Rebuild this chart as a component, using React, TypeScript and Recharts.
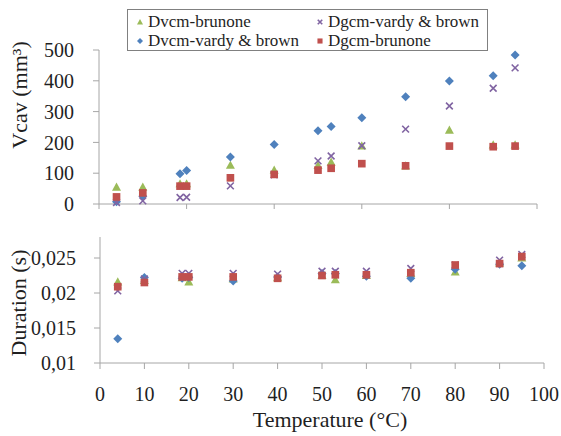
import React from 'react';
import { ScatterChart, Scatter, XAxis, YAxis } from 'recharts';

// temperature (°C) of each measurement
const temps = [4, 10, 18.5, 20, 30, 40, 50, 53, 60, 70, 80, 90, 95];

// Vcav (mm³)
const vcavDvcmBrunone = [55, 55, 66, 66, 126, 110, 125, 136, 189, 124, 240, 192, 192];
const vcavDvcmVardy = [7, 25, 98, 109, 153, 193, 238, 252, 280, 348, 399, 416, 484];
const vcavDgcmVardy = [5, 10, 21, 22, 59, 95, 140, 156, 189, 243, 318, 376, 442];
const vcavDgcmBrunone = [23, 36, 58, 58, 85, 96, 110, 116, 131, 124, 188, 186, 188];

// Duration (s)
const durDvcmBrunone = [0.0216, 0.0218, 0.0222, 0.0216, 0.022, 0.0222, 0.0225, 0.0219, 0.0225, 0.0228, 0.023, 0.0243, 0.025];
const durDvcmVardy = [0.01347, 0.0222, 0.0221, 0.0222, 0.0217, 0.0223, 0.0228, 0.0228, 0.0224, 0.0221, 0.0234, 0.0241, 0.0239];
const durDgcmVardy = [0.0203, 0.022, 0.0228, 0.0228, 0.0228, 0.0227, 0.0231, 0.0231, 0.0231, 0.0235, 0.024, 0.0247, 0.0255];
const durDgcmBrunone = [0.0209, 0.0215, 0.0223, 0.0223, 0.0223, 0.0221, 0.0225, 0.0226, 0.0226, 0.0229, 0.024, 0.0242, 0.0252];

const vcavTicks = [0, 100, 200, 300, 400, 500];
const durTicks = [0.01, 0.015, 0.02, 0.025];
const topTempTicks = [0, 20, 40, 60, 80, 100];
const bottomTempTicks = [0, 10, 20, 30, 40, 50, 60, 70, 80, 90, 100];

const FONT = 'Liberation Serif, serif';
const AXIS = '#A6A6A6';
const TEXT = '#1f1f1f';

type Kind = 'triangle' | 'diamond' | 'x' | 'square';

// draw order matters: squares end up on top
const series: { name: string; color: string; kind: Kind; top: number[]; bottom: number[] }[] = [
  { name: 'Dvcm-brunone', color: '#9BBB59', kind: 'triangle', top: vcavDvcmBrunone, bottom: durDvcmBrunone },
  { name: 'Dvcm-vardy & brown', color: '#4F81BD', kind: 'diamond', top: vcavDvcmVardy, bottom: durDvcmVardy },
  { name: 'Dgcm-vardy & brown', color: '#8064A2', kind: 'x', top: vcavDgcmVardy, bottom: durDgcmVardy },
  { name: 'Dgcm-brunone', color: '#C0504D', kind: 'square', top: vcavDgcmBrunone, bottom: durDgcmBrunone },
];

const toPoints = (ys: number[]) => temps.map((t, i) => ({ t, y: ys[i] }));

const Marker = ({ kind, cx, cy, color, s }: { kind: Kind; cx: number; cy: number; color: string; s: number }) => {
  if (kind === 'triangle') {
    return <path d={`M${cx},${cy - s}L${cx + s},${cy + s * 0.8}L${cx - s},${cy + s * 0.8}Z`} fill={color} />;
  }
  if (kind === 'diamond') {
    return <path d={`M${cx},${cy - s}L${cx + s},${cy}L${cx},${cy + s}L${cx - s},${cy}Z`} fill={color} />;
  }
  if (kind === 'square') {
    const h = s * 0.85;
    return <rect x={cx - h} y={cy - h} width={h * 2} height={h * 2} fill={color} />;
  }
  const h = s * 0.75;
  return (
    <path
      d={`M${cx - h},${cy - h}L${cx + h},${cy + h}M${cx - h},${cy + h}L${cx + h},${cy - h}`}
      stroke={color}
      strokeWidth={1.6}
      fill="none"
    />
  );
};

const shapeFor = (kind: Kind, color: string) => (p: any) =>
  <Marker kind={kind} cx={p.cx} cy={p.cy} color={color} s={4.5} />;

const commaFormat = (v: number) => String(v).replace('.', ',');

const XTick = (p: any) => (
  <text x={p.x} y={p.y} dy="0.71em" textAnchor="middle" fontSize={20} fill={TEXT} fontFamily={FONT}>
    {p.payload.value}
  </text>
);

const YTick = (fmt?: (v: number) => string) => (p: any) => (
  <text x={p.x} y={p.y} dy="0.355em" textAnchor="end" fontSize={20} fill={TEXT} fontFamily={FONT}>
    {fmt ? fmt(p.payload.value) : p.payload.value}
  </text>
);

// legend reads row by row: Dvcm-brunone | Dgcm-vardy, Dvcm-vardy | Dgcm-brunone
const legendPos = [
  { left: 8, top: 4 },
  { left: 8, top: 23 },
  { left: 188, top: 4 },
  { left: 188, top: 23 },
];

const Legend = () => (
  <div
    style={{
      position: 'absolute',
      left: 127,
      top: 9,
      width: 361,
      height: 42,
      boxSizing: 'border-box',
      border: '1px solid #808080',
      background: '#fff',
      fontFamily: FONT,
      fontSize: 17,
      color: TEXT,
    }}
  >
    {series.map((s, i) => (
      <div
        key={s.name}
        style={{
          position: 'absolute',
          left: legendPos[i].left,
          top: legendPos[i].top,
          display: 'flex',
          alignItems: 'center',
          whiteSpace: 'nowrap',
          lineHeight: '16px',
        }}
      >
        <svg width={8} height={8} style={{ marginRight: 4 }}>
          <Marker kind={s.kind} cx={4} cy={4} color={s.color} s={3} />
        </svg>
        <span>{s.name}</span>
      </div>
    ))}
  </div>
);

export default function App() {
  return (
    <div style={{ position: 'absolute', left: 0, top: 0, width: 561, height: 436, background: '#fff', fontFamily: FONT }}>
      <div style={{ position: 'absolute', left: 0, top: 0 }}>
        <ScatterChart width={561} height={215} margin={{ top: 50, right: 24, bottom: 0, left: 0 }}>
          <XAxis
            type="number"
            dataKey="t"
            domain={[0, 100]}
            ticks={topTempTicks}
            interval={0}
            height={11}
            tickSize={5}
            tick={() => <g />}
            stroke={AXIS}
          />
          <YAxis
            type="number"
            dataKey="y"
            domain={[0, 500]}
            ticks={vcavTicks}
            interval={0}
            width={99}
            tickSize={6}
            tickMargin={19}
            tick={YTick()}
            stroke={AXIS}
            label={() => (
              <text transform="translate(27,95) rotate(-90)" textAnchor="middle" fontSize={22} fill={TEXT} fontFamily={FONT}>
                Vcav (mm³)
              </text>
            )}
          />
          {series.map((s) => (
            <Scatter
              key={s.name}
              name={s.name}
              data={toPoints(s.top)}
              fill={s.color}
              shape={shapeFor(s.kind, s.color)}
              isAnimationActive={false}
            />
          ))}
        </ScatterChart>
      </div>
      <div style={{ position: 'absolute', left: 0, top: 225 }}>
        <ScatterChart width={561} height={211} margin={{ top: 12, right: 17, bottom: 0, left: 0 }}>
          <XAxis
            type="number"
            dataKey="t"
            domain={[0, 100]}
            ticks={bottomTempTicks}
            interval={0}
            height={73}
            tickSize={6}
            tickMargin={18}
            tick={XTick}
            stroke={AXIS}
            label={() => (
              <text x={330} y={202} textAnchor="middle" fontSize={22} fill={TEXT} fontFamily={FONT}>
                Temperature (°C)
              </text>
            )}
          />
          <YAxis
            type="number"
            dataKey="y"
            domain={[0.01, 0.028]}
            ticks={durTicks}
            interval={0}
            width={100}
            tickSize={6}
            tickMargin={18}
            tick={YTick(commaFormat)}
            stroke={AXIS}
            label={() => (
              <text transform="translate(26,78) rotate(-90)" textAnchor="middle" fontSize={22} fill={TEXT} fontFamily={FONT}>
                Duration (s)
              </text>
            )}
          />
          {series.map((s) => (
            <Scatter
              key={s.name}
              name={s.name}
              data={toPoints(s.bottom)}
              fill={s.color}
              shape={shapeFor(s.kind, s.color)}
              isAnimationActive={false}
            />
          ))}
        </ScatterChart>
      </div>
      <Legend />
    </div>
  );
}
